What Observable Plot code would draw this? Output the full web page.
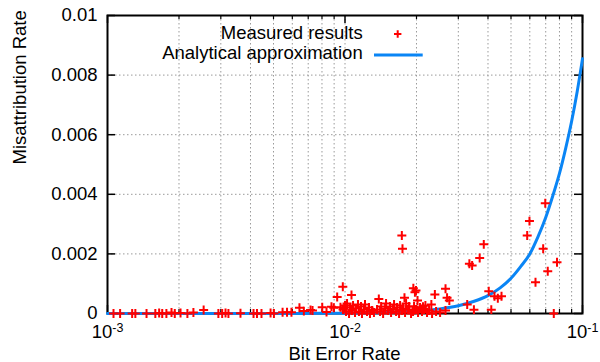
<!DOCTYPE html>
<html><head><meta charset="utf-8">
<script src="https://cdn.jsdelivr.net/npm/d3@7"></script>
<script src="https://cdn.jsdelivr.net/npm/@observablehq/plot@0.6"></script>
<style>
body{margin:0;background:#fff;}
#chart{position:relative;width:600px;height:362px;font-family:"Liberation Sans",Arial,Helvetica,sans-serif;}
#legend{position:absolute;left:0;top:0;pointer-events:none;font-family:"Liberation Sans",Arial,Helvetica,sans-serif;font-size:18.5px;}
</style></head><body>
<div id="chart"></div>
<script>
// Measured results: bit error rate (x) and misattribution rate (y)
const ber = [
  0.00106,0.00113,0.00127,0.00131,0.00146,0.00159,0.00165,0.00170,0.00177,0.00186,
  0.00192,0.00203,0.00217,0.00230,0.00254,0.00293,0.00304,0.00314,0.00323,0.00363,
  0.00412,0.00426,0.00445,0.00486,0.00502,0.00546,0.00570,0.00595,0.00643,0.00671,
  0.00716,0.00730,0.00802,0.00836,0.00877,0.00897,0.00927,0.00957,0.00979,0.00988,
  0.01065,
  0.00981,0.0100,0.0101,0.0102,0.0104,0.0105,0.0107,0.01081,0.01102,0.01113,
  0.01134,0.01145,0.01168,0.01179,0.01202,0.01214,0.01238,0.01262,0.01274,0.01299,
  0.01324,0.01364,0.01388,0.01405,0.01419,0.01447,0.01475,0.01489,0.01518,0.01548,
  0.01563,0.01594,0.01609,0.01641,0.01657,0.01689,0.01706,0.01735,0.01746,0.01739,
  0.01756,0.0178,0.0179,0.01808,0.01843,0.01861,0.01897,0.0194,0.01934,0.0197,
  0.01953,0.0199,0.01991,0.0202,0.0203,0.0207,0.0211,0.0213,0.02151,0.0218,
  0.02215,0.02259,0.0231,0.02326,0.0239,0.02418,0.02514,0.0265,0.0265,0.0269,
  0.0275,0.0327,0.0334,0.0343,0.0349,0.0369,0.0384,0.0403,0.0413,0.0426,
  0.0440,0.0456,0.0585,0.0598,0.0634,0.0683,0.0697,0.0714,0.0757,0.0781
];
const mis = [
  0,0,0,0,0,0,0.00002,0,0,0.00003,
  0,0.00002,0,0.00003,0.00012,0,0,0.00002,0,0.00001,
  0,0,0,0.00002,0,0.00004,0.00004,0.00004,0.00019,0.00008,
  0.00012,0.00010,0.00021,0.00005,0.00023,0.00019,0.00055,0.00021,0.00090,0.00016,
  0.00062,
  0.000134,0.000268,0.000067,0.000336,0,0.000201,0.000101,0.000268,0.000034,0.000168,
  0.000302,0.000067,0.000235,0,0.000134,0.000302,0.000067,0.000201,0,0.000101,
  0.000034,0.000134,0.00049,0.000067,0.000235,0,0.000168,0.000336,0.000101,0.000235,
  0.000034,0.000134,0.000302,0.000067,0.000201,0,0.000268,0.00262,0.00217,0.000101,
  0.000168,0.00053,0.000034,0.000336,0.000134,0.000235,0,0.00085,0.000067,0.00071,
  0.000235,0.00077,0.000134,0.00044,0.000034,0.000201,0.000067,0.00023,0.000134,0.00027,
  0.000034,0.000101,0.0003,0,0.00064,0.000067,0.000034,0.00083,0.0001,0.00053,
  0.00044,0.0003,0.00167,0.00161,0.00013,0.00186,0.00232,0.00075,0.00013,0.00058,
  0.00051,0.00058,0.00262,0.0031,0.00105,0.00217,0.0037,0.00142,0,0.00172
];
// Analytical approximation
const curveBer = [0.001,0.002,0.004,0.006,0.008,0.01,0.013,0.016,0.02,0.025,0.03,0.035,0.04,0.045,0.05,0.055,0.06,0.065,0.07,0.075,0.08,0.085,0.09,0.095,0.1];
const curveMis = [0,0.0000001,0.0000008,0.0000025,0.0000056,0.000011,0.000023,0.000042,0.00008,0.000155,0.00026,0.00041,0.0006,0.00086,0.00118,0.00158,0.002,0.00258,0.00322,0.00395,0.0047,0.00555,0.00645,0.00745,0.00855];

const yTicks = [0,0.002,0.004,0.006,0.008,0.01];
const yTickLabels = ["0","0.002","0.004","0.006","0.008","0.01"];
const yGrid = [0.002,0.004,0.006,0.008];
const xMajor = [0.001,0.01,0.1];
const xMajorLabels = ["10^-3","10^-2","10^-1"];
const xMinor = [0.002,0.003,0.004,0.005,0.006,0.007,0.008,0.009,0.02,0.03,0.04,0.05,0.06,0.07,0.08,0.09];
const seriesNames = ["Measured results","Analytical approximation"];
const xTitle = "Bit Error Rate";
const yTitle = "Misattribution Rate";

const red = "#ff0000", blue = "#0a85f5", gridColor = "#9a9a9a";
const measured = ber.map((x,i)=>({x, y: mis[i]}));
const approx = curveBer.map((x,i)=>({x, y: curveMis[i]}));

const W = 600, H = 362, mL = 107, mR = 18, mT = 15, mB = 49;
const fw = W - mL - mR, fh = H - mT - mB;

const plot = Plot.plot({
  width: W, height: H, marginLeft: mL, marginRight: mR, marginTop: mT, marginBottom: mB,
  style: {fontFamily: "Liberation Sans, Arial, Helvetica, sans-serif", fontSize: "18.5px", background: "white", color: "black", overflow: "visible"},
  x: {type: "log", domain: [0.001, 0.1], label: null},
  y: {domain: [0, 0.01], label: null},
  marks: [
    Plot.gridX(xMinor.concat([0.01]), {stroke: gridColor, strokeOpacity: 1, strokeWidth: 1, strokeDasharray: "1.5,2.5"}),
    Plot.gridY(yGrid, {stroke: gridColor, strokeOpacity: 1, strokeWidth: 1, strokeDasharray: "1.5,2.5"}),
    Plot.tickX(xMinor, {x: d=>d, insetTop: fh-4, stroke: "black", strokeWidth: 1.2}),
    Plot.tickX(xMinor, {x: d=>d, insetBottom: fh-4, stroke: "black", strokeWidth: 1.2}),
    Plot.tickX(xMajor, {x: d=>d, insetTop: fh-8, stroke: "black", strokeWidth: 1.5}),
    Plot.tickX(xMajor, {x: d=>d, insetBottom: fh-8, stroke: "black", strokeWidth: 1.5}),
    Plot.tickY(yTicks, {y: d=>d, insetRight: fw-8, stroke: "black", strokeWidth: 1.5}),
    Plot.tickY(yTicks, {y: d=>d, insetLeft: fw-8, stroke: "black", strokeWidth: 1.5}),
    Plot.axisY(yTicks, {tickSize: 0, tickPadding: 10, tickFormat: d => yTickLabels[yTicks.indexOf(d)], label: null, fontSize: 18.5}),
    Plot.axisX(xMajor, {tickSize: 0, tickPadding: 11, tickFormat: d => xMajorLabels[xMajor.indexOf(d)], label: null, fontSize: 18.5}),
    Plot.frame({stroke: "black", strokeWidth: 2}),
    Plot.line(approx, {x: "x", y: "y", stroke: blue, strokeWidth: 3, curve: "monotone-x"}),
    Plot.dot(measured, {x: "x", y: "y", symbol: "plus", r: 3, stroke: red, strokeWidth: 2}),
    Plot.text([yTitle], {text: d=>d, frameAnchor: "left", dx: -87, rotate: -90, fontSize: 18.5})
  ]
});

// superscript exponents on x tick labels
const ns = "http://www.w3.org/2000/svg";
plot.querySelectorAll('g[aria-label="x-axis tick label"] text').forEach(t => {
  const s = t.textContent;
  if (!s.includes("^")) return;
  const [b, e] = s.split("^");
  t.textContent = "";
  const t1 = document.createElementNS(ns, "tspan"); t1.textContent = b;
  const t2 = document.createElementNS(ns, "tspan"); t2.textContent = e;
  t2.setAttribute("dy", "-0.42em"); t2.setAttribute("font-size", "12.5");
  t.append(t1, t2);
});

const chart = document.getElementById("chart");
chart.appendChild(plot);

// legend and x title overlay
const leg = document.createElementNS(ns, "svg");
leg.setAttribute("id", "legend"); leg.setAttribute("width", W); leg.setAttribute("height", H);
const mk = (tag, attrs, txt) => { const e = document.createElementNS(ns, tag); for (const k in attrs) e.setAttribute(k, attrs[k]); if (txt) e.textContent = txt; leg.appendChild(e); return e; };
mk("text", {x: 362.7, y: 38.5, "text-anchor": "end", fill: "black"}, seriesNames[0]);
mk("path", {d: "M394,34H401.4M397.7,30.3V37.7", stroke: red, "stroke-width": 2, fill: "none"});
mk("text", {x: 362.7, y: 59.3, "text-anchor": "end", fill: "black"}, seriesNames[1]);
mk("line", {x1: 374, x2: 422.7, y1: 55, y2: 55, stroke: blue, "stroke-width": 3});
mk("text", {x: mL + fw / 2, y: 359.5, "text-anchor": "middle", fill: "black"}, xTitle);
chart.appendChild(leg);
</script>
</body></html>
